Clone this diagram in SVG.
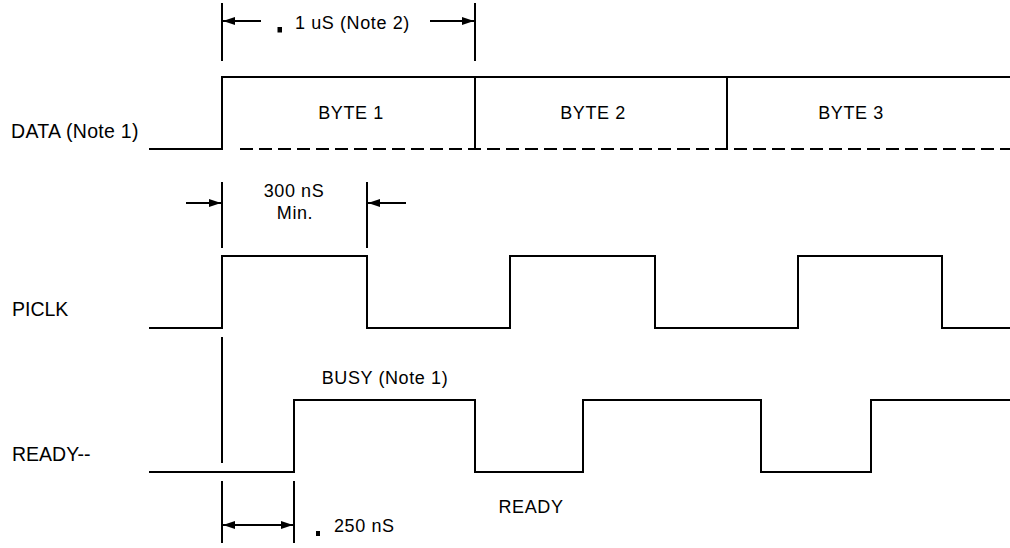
<svg xmlns="http://www.w3.org/2000/svg" width="1010" height="548" viewBox="0 0 1010 548">
<style>
.w{fill:none;stroke:#000;stroke-width:2;stroke-linecap:square}
.d{fill:none;stroke:#000;stroke-width:2;stroke-dasharray:13 6}
.t{font-family:"Liberation Sans",Arial,sans-serif;font-size:18px;letter-spacing:0.6px;fill:#000}
.l{font-family:"Liberation Sans",Arial,sans-serif;font-size:19.5px;fill:#000}
.m{text-anchor:middle}
</style>
<defs>
<marker id="ah" viewBox="0 0 12 8" refX="12" refY="4" markerWidth="12" markerHeight="8" markerUnits="userSpaceOnUse" orient="auto-start-reverse">
<path d="M0,0 L12,4 L0,8 Z" fill="#000"/>
</marker>
</defs>
<rect width="1010" height="548" fill="#fff"/>
<g id="data">
<text class="l" x="11" y="138" style="letter-spacing:0.3px">DATA (Note 1)</text>
<path class="w" d="M150,149 H222 V77 H1010"/>
<path class="w" d="M475,77 V149 M727,77 V149"/>
<path class="d" d="M240,149 H1010"/>
<text class="t m" x="351" y="119">BYTE 1</text>
<text class="t m" x="593" y="119">BYTE 2</text>
<text class="t m" x="851" y="119">BYTE 3</text>
</g>
<g id="piclk">
<text class="l" x="12" y="316">PICLK</text>
<path class="w" d="M150,328 H222 V256 H367 V328 H510 V256 H655 V328 H798 V256 H942 V328 H1010"/>
</g>
<g id="ready">
<text class="l" x="12" y="461">READY--</text>
<path class="w" d="M150,472 H294 V400 H475 V472 H583 V400 H761 V472 H871 V400 H1010"/>
<text class="t m" x="385" y="384">BUSY (Note 1)</text>
<text class="t m" x="531" y="513">READY</text>
</g>
<g id="connectors">
<path class="w" d="M222,4 V60 M475,4 V60"/>
<line class="w" x1="260" y1="21" x2="223" y2="21" marker-end="url(#ah)"/>
<line class="w" x1="431" y1="21" x2="474" y2="21" marker-end="url(#ah)"/>
<rect x="277.5" y="27" width="4.5" height="5.5" fill="#000"/>
<text class="t" x="295" y="29">1 uS (Note 2)</text>
<path class="w" d="M222,183 V247 M367,183 V247"/>
<line class="w" x1="187" y1="203" x2="221" y2="203" marker-end="url(#ah)"/>
<line class="w" x1="405" y1="203" x2="368" y2="203" marker-end="url(#ah)"/>
<text class="t m" x="294" y="197">300 nS</text>
<text class="t m" x="295" y="219">Min.</text>
<path class="w" d="M222,338 V462"/>
<path class="w" d="M222,482 V542 M294,482 V542"/>
<line class="w" x1="223" y1="525" x2="293" y2="525" marker-start="url(#ah)" marker-end="url(#ah)"/>
<rect x="316" y="531" width="4" height="5" fill="#000"/>
<text class="t" x="334" y="532">250 nS</text>
</g>
</svg>
